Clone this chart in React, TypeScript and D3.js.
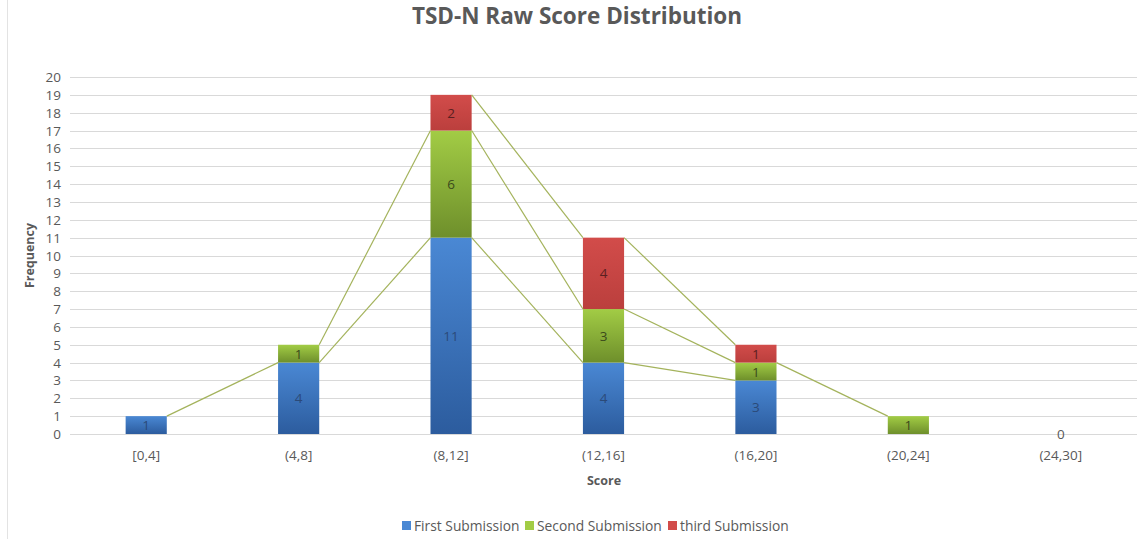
import * as d3 from "d3";

const categories = ["[0,4]", "(4,8]", "(8,12]", "(12,16]", "(16,20]", "(20,24]", "(24,30]"];
const firstSubmission = [1, 4, 11, 4, 3, null, 0];
const secondSubmission = [null, 1, 6, 3, 1, 1, null];
const thirdSubmission = [null, null, 2, 4, 1, null, null];
const seriesNames = ["First Submission", "Second Submission", "third Submission"];
const yTicks = d3.range(0, 21);

const W = 1145;
const H = 539;
const margin = { top: 77, right: 8, bottom: 105, left: 70 };

const colors = [
  { top: "#4a88d4", bottom: "#2c5c9e", label: "#2b4a78" },
  { top: "#a2cc45", bottom: "#6e8f2b", label: "#3b4a1c" },
  { top: "#d24c4a", bottom: "#bb3f3d", label: "#5a2020" },
];

const font = "'Open Sans', sans-serif";

function App() {
  const series = [firstSubmission, secondSubmission, thirdSubmission];

  const x = d3
    .scaleBand()
    .domain(categories)
    .range([margin.left, W - margin.right])
    .paddingInner(0.73)
    .paddingOuter(0.365);
  const y = d3
    .scaleLinear()
    .domain([0, 20])
    .range([H - margin.bottom, margin.top]);

  // stacked segments
  const segs = categories.map((c, i) => {
    let acc = 0;
    return series.map((s, k) => {
      const v = s[i];
      const y0 = acc;
      if (v != null) acc += v;
      return { cat: c, k, v, y0, y1: acc };
    });
  });

  const bw = x.bandwidth();

  // series lines between neighbouring bars
  const lines = [];
  for (let i = 0; i < categories.length - 1; i++) {
    for (let k = 0; k < series.length; k++) {
      const a = segs[i][k];
      const b = segs[i + 1][k];
      if (a.v == null || b.v == null) continue;
      lines.push({
        x1: x(categories[i])! + bw,
        y1: y(a.y1),
        x2: x(categories[i + 1])!,
        y2: y(b.y1),
      });
    }
  }

  const legendX = [402, 525, 668];

  return (
    <svg
      width={W}
      height={H}
      style={{ position: "absolute", left: 0, top: 0, background: "#fff" }}
      fontFamily={font}
    >
      <defs>
        {colors.map((c, k) => (
          <linearGradient key={k} id={`g${k}`} x1="0" y1="0" x2="0" y2="1">
            <stop offset="0%" stopColor={c.top} />
            <stop offset="100%" stopColor={c.bottom} />
          </linearGradient>
        ))}
      </defs>
      <line x1={7.5} x2={7.5} y1={0} y2={H} stroke="#e3e3e3" />

      <text x={577} y={24} textAnchor="middle" fontSize={22.5} fontWeight="bold" fill="#595959">
        TSD-N Raw Score Distribution
      </text>

      <g>
        {yTicks.map((t) => (
          <g key={t}>
            <line
              x1={margin.left}
              x2={W - margin.right}
              y1={Math.round(y(t)) + 0.5}
              y2={Math.round(y(t)) + 0.5}
              stroke="#d9d9d9"
            />
            <text x={61} y={y(t) + 5} textAnchor="end" fontSize={13.5} fill="#595959">
              {t}
            </text>
          </g>
        ))}
      </g>

      <g>
        {segs.flat().map((s, j) =>
          s.v != null && s.v > 0 ? (
            <rect
              key={j}
              x={x(s.cat)}
              width={bw}
              y={y(s.y1)}
              height={y(s.y0) - y(s.y1)}
              fill={`url(#g${s.k})`}
            />
          ) : null
        )}
      </g>

      <g stroke="#a4b35c" strokeWidth={1.2}>
        {lines.map((l, i) => (
          <line key={i} {...l} />
        ))}
      </g>

      <g fontSize={13.5} textAnchor="middle">
        {segs.flat().map((s, j) =>
          s.v != null ? (
            <text
              key={j}
              x={x(s.cat)! + bw / 2}
              y={s.v > 0 ? (y(s.y0) + y(s.y1)) / 2 + 5 : y(0) + 5}
              fill={s.v > 0 ? colors[s.k].label : "#595959"}
            >
              {s.v}
            </text>
          ) : null
        )}
      </g>

      <g fontSize={13.5} textAnchor="middle" fill="#595959">
        {categories.map((c) => (
          <text key={c} x={x(c)! + bw / 2} y={460}>
            {c}
          </text>
        ))}
      </g>

      <text x={604} y={485} textAnchor="middle" fontSize={12.5} fontWeight="bold" fill="#595959">
        Score
      </text>
      <text
        transform={`translate(34,${y(10)}) rotate(-90)`}
        textAnchor="middle"
        fontSize={12.5}
        fontWeight="bold"
        fill="#595959"
      >
        Frequency
      </text>

      <g fontSize={13.8} fill="#595959">
        {seriesNames.map((n, k) => (
          <g key={n}>
            <rect x={legendX[k]} y={521} width={9} height={9} fill={colors[k].top} />
            <text x={legendX[k] + 12} y={531}>
              {n}
            </text>
          </g>
        ))}
      </g>
    </svg>
  );
}

export default App;
